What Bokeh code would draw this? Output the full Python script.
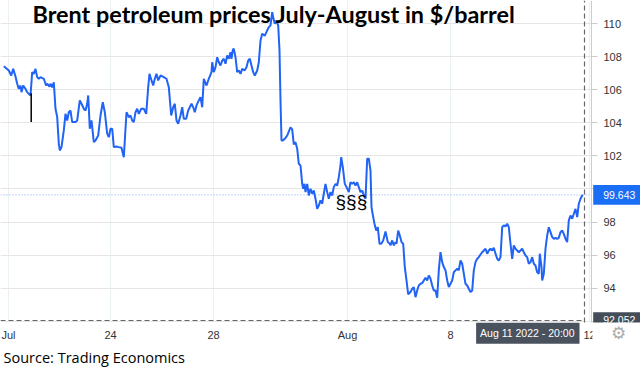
from bokeh.plotting import figure
from bokeh.models import Range1d, FixedTicker, Label, BoxAnnotation
from bokeh.embed import file_html
from bokeh.resources import INLINE

# time axis: chart hours from the "Jul" gridline
t = [-4.7, 0.3, 2.7, 4.7, 7.0, 8.7, 10.3, 12.0, 13.0, 14.7, 17.0, 18.7, 20.3, 22.0, 23.7, 25.3, 27.0,
     28.7, 30.3, 32.0, 35.3, 37.7, 38.7, 41.0, 42.0, 43.7, 45.3, 47.0, 48.7, 50.3, 51.3, 53.0, 55.3,
     57.0, 58.7, 60.3, 62.0, 63.7, 67.0, 68.7, 71.3, 73.0, 75.3, 77.0, 78.7, 79.7, 81.3, 83.0, 85.3,
     87.0, 89.7, 92.0, 94.3, 96.3, 98.7, 100.3, 102.0, 103.7, 105.3, 107.7, 110.3, 113.0, 115.3,
     118.0, 120.3, 122.0, 123.7, 125.3, 127.0, 128.7, 130.3, 132.7, 135.3, 137.7, 139.7, 141.0,
     143.0, 144.7, 146.3, 148.0, 149.7, 152.0, 155.3, 158.0, 160.3, 162.7, 164.7, 166.3, 168.0,
     169.7, 172.0, 173.7, 175.3, 177.7, 179.7, 181.3, 183.0, 184.7, 186.3, 188.0, 190.3, 192.0,
     193.7, 195.3, 198.0, 200.3, 203.0, 203.7, 205.3, 207.0, 208.7, 210.3, 212.0, 213.7, 215.3,
     217.0, 218.7, 220.3, 222.0, 223.0, 224.3, 225.3, 227.0, 228.7, 230.3, 232.0, 233.7, 236.0,
     238.0, 239.7, 241.3, 243.0, 244.7, 246.3, 248.7, 250.3, 252.0, 253.7, 256.3, 258.7, 260.3,
     262.0, 263.7, 264.7, 266.3, 267.7, 269.7, 271.0, 272.0, 273.0, 274.3, 276.3, 278.7, 282.0,
     283.7, 285.3, 287.0, 288.7, 290.3, 292.0, 293.7, 294.7, 296.0, 297.0, 298.7, 300.3, 302.0,
     303.7, 305.3, 307.0, 308.7, 310.3, 312.0, 313.7, 315.3, 317.0, 318.7, 320.3, 322.0, 323.7,
     325.3, 327.0, 328.7, 330.3, 332.0, 332.7, 334.3, 336.3, 338.0, 340.3, 342.0, 343.7, 345.3,
     347.0, 348.7, 350.3, 352.0, 353.7, 355.3, 357.0, 358.7, 360.3, 362.0, 363.0, 364.7, 366.0,
     367.7, 369.3, 371.0, 372.7, 374.7, 377.0, 379.3, 381.3, 382.0, 383.7, 385.3, 387.0, 388.0,
     389.7, 391.3, 393.0, 394.7, 396.3, 398.0, 399.7, 402.0, 403.7, 405.3, 407.0, 408.7, 410.3,
     412.0, 413.7, 415.3, 417.0, 418.7, 420.3, 422.0, 423.7, 425.3, 427.0, 428.7, 430.3, 432.0,
     433.7, 435.3, 437.0, 438.7, 440.3, 442.0, 443.7, 445.3, 447.0, 448.7, 450.3, 452.0, 453.7,
     455.3, 457.0, 458.7, 460.3, 462.0, 463.7, 465.3, 467.0, 468.7, 470.3, 472.0, 473.7, 475.3,
     477.0, 478.7, 480.3, 482.0, 483.7, 485.3, 487.0, 488.7, 490.3, 492.0, 493.7, 495.3, 497.0,
     498.7, 500.3, 502.0, 503.7, 505.3, 507.0, 508.7, 510.3, 512.0, 513.7, 515.3, 517.0, 518.7,
     520.3, 522.0, 523.7, 525.3, 527.0, 528.7, 530.3, 531.3, 533.0, 533.7, 535.3, 537.0, 538.7,
     540.3, 542.0, 543.7, 545.3, 547.0, 548.7, 550.3, 552.0, 553.7, 555.3, 557.0, 558.7, 560.3,
     562.0, 563.7, 565.3, 567.0, 568.7, 570.3, 572.0, 573.7, 574.3]

price = [107.42, 107.16, 106.86, 107.26, 106.80, 106.36, 106.05, 106.25, 105.85, 106.25, 106.05,
         105.85, 105.75, 105.65, 107.06, 106.96, 107.26, 106.76, 106.66, 106.76, 106.66, 106.25,
         106.36, 106.19, 106.36, 106.15, 106.45, 104.85, 104.34, 102.73, 102.33, 102.53, 103.54,
         104.54, 104.14, 104.64, 104.74, 104.04, 104.04, 104.14, 105.35, 105.15, 104.85, 104.74,
         105.15, 105.65, 103.64, 104.14, 102.83, 102.93, 103.23, 104.44, 105.24, 104.64, 103.34,
         103.13, 103.64, 103.64, 102.53, 102.57, 102.53, 102.49, 101.92, 104.64, 104.34, 104.44,
         104.14, 104.04, 104.64, 104.85, 104.54, 104.85, 104.85, 104.54, 106.15, 106.96, 106.56,
         106.25, 106.66, 106.96, 106.56, 106.86, 106.76, 106.66, 106.15, 104.44, 104.94, 105.15,
         104.14, 103.94, 104.44, 104.94, 104.24, 104.24, 104.74, 104.94, 105.15, 104.94, 104.64,
         105.05, 105.35, 105.55, 104.94, 106.66, 106.25, 106.66, 107.06, 107.66, 107.06, 107.36,
         107.96, 107.66, 107.46, 107.76, 107.87, 107.57, 108.07, 107.87, 108.27, 107.87, 108.41,
         108.47, 107.96, 107.06, 107.16, 106.96, 107.26, 107.16, 107.36, 107.76, 107.87, 107.46,
         107.06, 106.86, 107.16, 107.66, 108.97, 109.38, 109.27, 109.58, 109.78, 109.88, 110.68,
         110.38, 109.98, 110.18, 109.88, 108.37, 105.35, 102.93, 102.93, 103.03, 103.23, 103.73,
         103.60, 102.69, 102.83, 102.43, 101.52, 101.42, 100.31, 100.01, 100.31, 99.81, 100.31,
         99.61, 100.01, 99.71, 99.91, 99.41, 98.80, 99.00, 99.31, 99.11, 99.71, 100.31, 99.81,
         99.41, 99.81, 99.61, 100.11, 100.31, 100.21, 100.71, 101.42, 101.92, 101.32, 100.31,
         100.11, 99.81, 100.41, 100.31, 100.41, 100.21, 100.41, 100.11, 99.81, 99.91, 99.61, 99.41,
         101.83, 101.83, 101.12, 98.90, 98.30, 97.90, 97.49, 97.69, 96.69, 96.69, 96.89, 97.43,
         96.79, 96.69, 96.59, 96.89, 96.59, 96.79, 96.69, 97.49, 97.19, 96.79, 96.69, 95.28, 94.47,
         93.63, 93.77, 93.97, 94.07, 93.46, 93.87, 94.17, 94.27, 94.31, 94.47, 94.64, 94.47, 94.77,
         94.57, 94.17, 93.87, 93.87, 93.43, 95.08, 96.18, 95.58, 95.28, 95.08, 94.47, 94.07, 94.27,
         94.47, 94.97, 95.08, 95.18, 95.08, 95.68, 95.48, 94.88, 94.27, 94.17, 93.97, 93.77, 93.87,
         95.08, 95.58, 95.78, 95.88, 96.04, 96.18, 96.28, 96.39, 96.09, 96.28, 96.39, 96.28, 96.45,
         96.09, 95.78, 95.68, 95.88, 97.69, 97.80, 97.74, 97.90, 97.69, 96.69, 95.78, 96.59, 96.39,
         96.28, 96.18, 96.28, 96.39, 96.18, 95.98, 95.88, 95.48, 95.58, 95.88, 95.48, 95.38, 94.97,
         94.88, 96.09, 95.28, 94.47, 94.88, 96.39, 97.19, 97.69, 97.39, 97.09, 96.99, 97.05, 96.99,
         97.05, 97.39, 97.49, 97.29, 96.99, 96.79, 98.10, 98.40, 98.20, 98.50, 98.80, 98.30, 99.11,
         99.41, 99.61, 99.643]

marker_t = [22.7]
marker_hi = [105.79]
marker_lo = [104.04]

x_tick_pos = [0, 102, 205, 339, 442, 581]
x_tick_labels = ["Jul", "24", "28", "Aug", "8", "12"]
y_ticks = [92, 94, 96, 98, 100, 102, 104, 106, 108, 110]

last_price = 99.643
cross_price = 92.052
cross_t = 576
cross_text = "Aug 11 2022 - 20:00"
title_text = "Brent petroleum prices July-August in $/barrel"
source_text = "Source: Trading Economics"

# view window (data units)
X0, X1 = -8, 632
Y0, Y1 = 89.03, 111.39
AXIS_T = 583          # where the price axis sits
PLOT_BOTTOM = 91.93   # where the time axis sits

BLUE = "#2163f5"

p = figure(width=640, height=370, x_range=Range1d(X0, X1), y_range=Range1d(Y0, Y1),
           y_axis_location="right", toolbar_location=None, output_backend="svg",
           min_border_left=0, min_border_right=0, min_border_top=0, min_border_bottom=0,
           background_fill_color="white", border_fill_color="white", outline_line_color=None)

# grid
yg, xg = p.ygrid[0], p.xgrid[0]
yg.grid_line_color = "#e6e6e6"
xg.grid_line_color = "#eaf1f3"
if "cross_bounds" in yg.properties():
    yg.cross_bounds = (X0, AXIS_T)
    xg.cross_bounds = (PLOT_BOTTOM, Y1)

# reference line of the last price (under the price line)
p.segment(x0=[X0], y0=[last_price], x1=[AXIS_T], y1=[last_price], line_color="#7ea7f6",
          line_dash="1 2", line_width=1)

p.line(t, price, line_color=BLUE, line_width=2)
p.segment(x0=marker_t, y0=marker_hi, x1=marker_t, y1=marker_lo, line_color="black", line_width=1.5)

# crosshair
p.segment(x0=[X0], y0=[cross_price], x1=[cross_t], y1=[cross_price], line_color="#666666",
          line_dash="5 3", line_width=1.2)
p.segment(x0=[cross_t], y0=[PLOT_BOTTOM], x1=[cross_t], y1=[Y1], line_color="#666666",
          line_dash="5 3", line_width=1.2)

ya = p.yaxis[0]
ya.fixed_location = AXIS_T
ya.bounds = (PLOT_BOTTOM, Y1)
ya.ticker = FixedTicker(ticks=y_ticks)
ya.axis_line_color = "#cccccc"
ya.major_tick_line_color = "#cccccc"
ya.major_tick_out = 6
ya.major_tick_in = 0
ya.minor_tick_line_color = None
ya.major_label_standoff = 6
ya.major_label_text_font = "Liberation Sans"
ya.major_label_text_font_size = "11px"
ya.major_label_text_color = "#333333"

xa = p.xaxis[0]
xa.fixed_location = PLOT_BOTTOM
xa.bounds = (X0, AXIS_T)
xa.ticker = FixedTicker(ticks=x_tick_pos)
xa.major_label_overrides = {pos: lab for pos, lab in zip(x_tick_pos, x_tick_labels)}
xa.axis_line_color = None
xa.major_tick_line_color = None
xa.minor_tick_line_color = None
xa.major_tick_out = 0
xa.major_tick_in = 0
xa.major_label_standoff = 6
xa.major_label_text_font = "Liberation Sans"
xa.major_label_text_font_size = "11px"
xa.major_label_text_color = "#333333"

p.add_layout(Label(x=327, y=99.24, x_units="data", y_units="data", text="§§§",
                   text_font="Liberation Sans", text_font_size="19px", text_color="black",
                   text_baseline="alphabetic"))

p.add_layout(Label(x=32, y=357, x_units="screen", y_units="screen", text=title_text,
                   text_font="Lato", text_font_style="bold", text_font_size="23.4px",
                   text_color="black", text_baseline="alphabetic"))

# price badges on the axis
BADGE_L = AXIS_T + 1.7
p.add_layout(BoxAnnotation(left=BADGE_L, right=X1, top=last_price + 0.6, bottom=last_price - 0.6,
                           fill_color="#1a6ef5", fill_alpha=1, line_color=None))
p.add_layout(Label(x=602.7, y=last_price, x_units="screen", y_units="data", text=f"{last_price:.3f}",
                   text_font="Liberation Sans", text_font_size="10.5px", text_color="white",
                   text_baseline="middle"))

p.add_layout(BoxAnnotation(left=BADGE_L, right=X1, top=cross_price + 0.5, bottom=Y0,
                           fill_color="#454d59", fill_alpha=1, line_color=None))
p.add_layout(Label(x=602.7, y=cross_price, x_units="screen", y_units="data", text=f"{cross_price:.3f}",
                   text_font="Liberation Sans", text_font_size="10.5px", text_color="white",
                   text_baseline="middle"))
p.add_layout(BoxAnnotation(left=AXIS_T + 1, right=X1, top=PLOT_BOTTOM, bottom=Y0,
                           fill_color="white", fill_alpha=1, line_color=None))

p.add_layout(Label(x=cross_t, y=37.3, x_units="data", y_units="screen", x_offset=-5,
                   text=cross_text, text_font="Liberation Sans", text_font_size="10.5px",
                   text_color="white", text_align="right", text_baseline="middle",
                   background_fill_color="#4a525e", padding=(4, 5, 4, 5)))

p.add_layout(Label(x=618, y=38, x_units="screen", y_units="screen", text="\u2699",
                   text_font="DejaVu Sans", text_font_size="17px", text_color="#aaaaaa",
                   text_align="center", text_baseline="middle"))

p.add_layout(Label(x=3, y=13, x_units="screen", y_units="screen", text=source_text,
                   text_font="Open Sans", text_font_size="14.5px", text_color="black",
                   text_baseline="alphabetic"))

open("out.html", "w").write(file_html(p, INLINE))
